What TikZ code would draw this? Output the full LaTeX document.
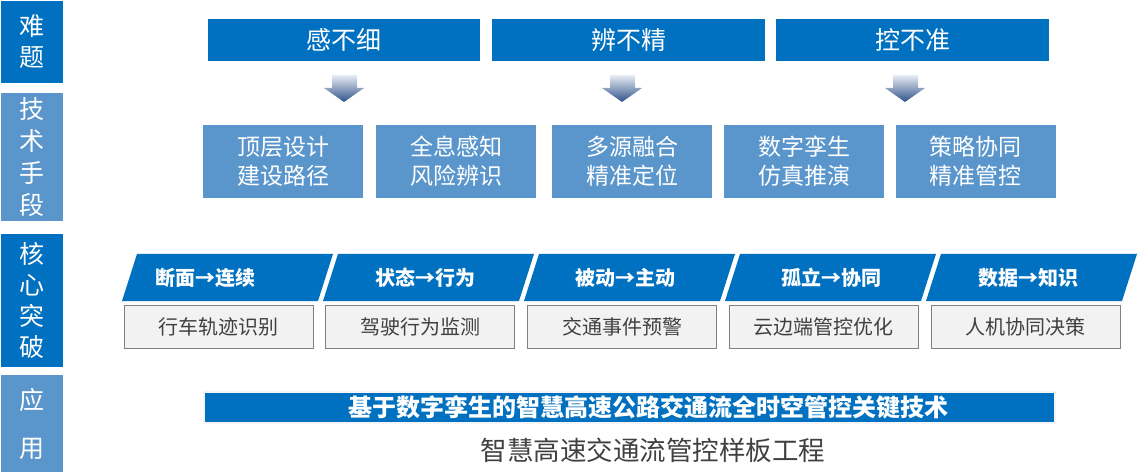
\documentclass[tikz,border=0pt]{standalone}
\usepackage{fontspec}
\setmainfont{Noto Sans CJK SC}
\definecolor{dkblue}{HTML}{0070C0}
\definecolor{ltblue}{HTML}{5A96CC}
\definecolor{txtgray}{HTML}{404040}
\definecolor{arrtop}{HTML}{E8EDF4}
\definecolor{arrbot}{HTML}{30528A}
\begin{document}
\begin{tikzpicture}[x=1pt,y=-1pt,line width=0.8pt,
  tag/.style={fill=#1,inner sep=0pt,minimum width=62pt,text=white,align=center,font=\fontsize{25}{31}\selectfont},
  issue/.style={fill=dkblue,inner sep=0pt,minimum width=272pt,minimum height=42pt,text=white,font=\fontsize{25}{30}\selectfont},
  means/.style={fill=ltblue,inner sep=0pt,minimum width=160pt,minimum height=73pt,text=white,align=center,font=\fontsize{23}{29}\selectfont},
  turn/.style={text=white,font=\bfseries\fontsize{20}{24}\selectfont},
  task/.style={draw=black!50,fill=black!5,inner sep=0pt,minimum width=189pt,minimum height=43pt,text=txtgray,font=\fontsize{20}{24}\selectfont}]
 \path (0,0) (1138,473);
 % left column
 \node[tag=dkblue,minimum height=82pt] (nanti) at (32,42) {难\\题};
 \node[tag=ltblue,minimum height=128pt,font=\fontsize{25}{32}\selectfont] (shouduan) at (32,157) {技\\术\\手\\段};
 \node[tag=dkblue,minimum height=133pt] (tupo) at (32,300.5) {核\\心\\突\\破};
 \node[tag=ltblue,minimum height=97pt,font=\fontsize{25}{48}\selectfont] (yingyong) at (32,423.5) {应\\用};
 % problems
 \node[issue] (ganbuxi) at (344,40) {感不细};
 \node[issue,minimum width=273pt] (bianbujing) at (628.5,40) {辨不精};
 \node[issue,minimum width=273pt] (kongbuzhun) at (912.5,40) {控不准};
 \foreach \c in {344,622,905}
  \shade[top color=arrtop,bottom color=arrbot]
   (\c-12,75) -- (\c+13,75) -- (\c+13,88) -- (\c+20,88) -- (\c,102) -- (\c-20,88) -- (\c-12,88) -- cycle;
 % means
 \node[means] (m1) at (283,161.5) {顶层设计\\建设路径};
 \node[means] (m2) at (456,161.5) {全息感知\\风险辨识};
 \node[means] (m3) at (632,161.5) {多源融合\\精准定位};
 \node[means] (m4) at (804,161.5) {数字孪生\\仿真推演};
 \node[means] (m5) at (975.5,161.5) {策略协同\\精准管控};
 % breakthroughs
 \foreach \i/\t/\tx in {0/断面→连续/205,1/状态→行为/425,2/被动→主动/625,3/孤立→协同/831,4/数据→知识/1028} {
  \fill[dkblue] (122+201*\i,301) -- ++(15,-47) -- ++(196,0) -- ++(-15,47) -- cycle;
  \node[turn] (t\i) at (\tx,277.5) {\t};
 }
 \foreach \i/\t in {0/行车轨迹识别,1/驾驶行为监测,2/交通事件预警,3/云边端管控优化,4/人机协同决策}
  \node[task] (k\i) at (218.5+201.75*\i,326.5) {\t};
 % application
 \node[fill=dkblue,draw=black!4,line width=2pt,inner sep=0pt,minimum width=851pt,minimum height=31pt] (banner) at (629.5,407.5) {};
 \node[text=white,font=\bfseries\fontsize{24}{28}\selectfont] (jishu) at (648,407.5) {基于数字孪生的智慧高速公路交通流全时空管控关键技术};
 \node[text=txtgray,font=\fontsize{26.5}{30}\selectfont] (gongcheng) at (653,450) {智慧高速交通流管控样板工程};
\end{tikzpicture}
\end{document}
